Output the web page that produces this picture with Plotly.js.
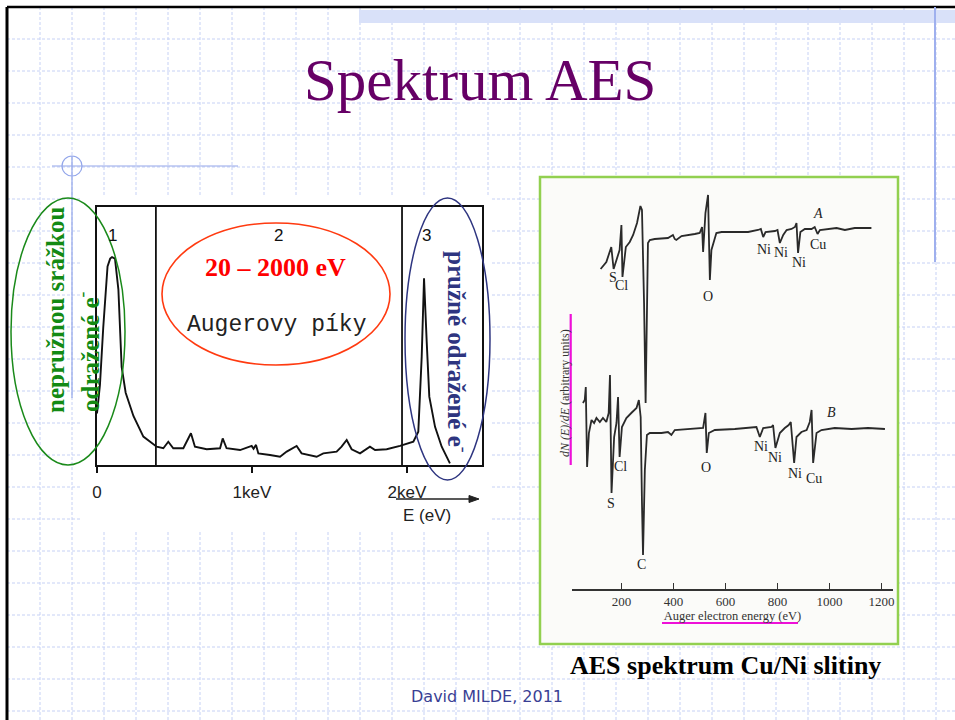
<!DOCTYPE html>
<html>
<head>
<meta charset="utf-8">
<script src="https://cdn.plot.ly/plotly-3.0.1.min.js"></script>
<style>html,body{margin:0;padding:0;background:#fff;}#chart{width:955px;height:720px;}</style>
</head>
<body>
<div id="chart"></div>
<script>
// ---------- DATA ----------
// Left spectrum N(E): energy (eV) and intensity (arb.)
const leftE = [0, 19, 40, 68, 85, 97, 116, 138, 159, 185, 235, 299, 385, 428, 460, 492, 557, 606, 632, 708, 794, 811, 836, 923, 998, 1010, 1026, 1041, 1116, 1181, 1224, 1288, 1320, 1417, 1460, 1546, 1578, 1611, 1643, 1697, 1761, 1794, 1869, 1955, 2041, 2073, 2095, 2110, 2127, 2144, 2181, 2224, 2277];
const leftN = [20, 31, 53, 77, 80, 80.6, 80, 68, 38, 28, 19, 11, 7.1, 6.5, 9.0, 6.5, 6.5, 12.3, 7.1, 6.1, 6.5, 10.3, 6.5, 5.8, 7.4, 6.3, 7.8, 4.5, 3.9, 3.2, 5.2, 7.4, 4.5, 3.2, 4.5, 5.2, 7.1, 9.7, 6.1, 4.5, 7.1, 5.8, 6.1, 7.4, 9.0, 12.9, 42, 72.4, 48, 26.5, 14.8, 7.1, 0.6];
const leftTickVals = [0, 1000, 2000];
const leftTickText = ['0', '1keV', '2keV'];
const regionBounds = [380, 1968];
const regionNames = ['1', '2', '3'];
const regionNameE = [97, 1168, 2129];

// Right spectrum dN/dE, curve A
const specAE = [120, 142, 161, 170, 181, 193, 200, 204, 217, 232, 245, 260, 273, 279, 287, 293, 302, 309, 328, 379, 398, 405, 411, 431, 482, 501, 510, 514, 523, 533, 536, 540, 546, 565, 585, 636, 687, 725, 736, 745, 754, 790, 800, 809, 822, 835, 854, 867, 873, 879, 888, 905, 931, 943, 954, 963, 995, 1027, 1059, 1097, 1161];
const specA  = [32.0, 32.7, 34.2, 32.0, 32.9, 33.9, 36.4, 31.2, 34.2, 34.7, 35.4, 36.6, 38.3, 37.9, 28.6, 18.6, 34.6, 34.9, 35.0, 35.1, 35.4, 35.0, 34.9, 35.3, 35.5, 35.6, 36.2, 33.7, 37.6, 39.4, 35.6, 30.9, 33.9, 35.6, 35.7, 35.7, 35.7, 35.9, 36.0, 35.2, 35.7, 35.8, 35.9, 34.6, 35.4, 35.9, 36.0, 36.2, 36.6, 33.6, 35.7, 36.0, 36.0, 36.2, 35.5, 35.9, 36.0, 36.1, 35.9, 36.1, 36.1];
// Right spectrum dN/dE, curve B
const specBE = [52, 59, 63, 68, 75, 85, 95, 104, 117, 129, 142, 151, 156, 162, 172, 181, 187, 193, 202, 219, 238, 258, 267, 274, 279, 283, 290, 298, 309, 354, 379, 392, 405, 482, 514, 523, 528, 536, 559, 636, 700, 719, 732, 745, 777, 783, 792, 809, 828, 843, 851, 864, 873, 892, 912, 924, 931, 937, 950, 969, 1020, 1085, 1148, 1213];
const specB  = [18.6, 18.9, 20.2, 12.2, 15.6, 16.9, 16.6, 17.1, 16.7, 17.1, 16.7, 17.6, 21.4, 9.6, 15.2, 16.6, 19.2, 13.2, 16.2, 17.1, 17.6, 18.1, 18.9, 17.2, 8.6, 3.4, 11.9, 15.4, 15.6, 15.6, 15.7, 15.4, 15.9, 16.0, 16.1, 17.6, 13.6, 15.6, 15.9, 16.0, 16.1, 16.2, 15.2, 16.1, 16.2, 16.4, 14.1, 15.6, 16.1, 16.4, 16.7, 12.6, 15.2, 15.7, 15.9, 16.7, 17.9, 12.6, 15.6, 15.9, 16.1, 16.0, 16.1, 16.0];
const rightTickVals = [200, 400, 600, 800, 1000, 1200];
// Peak labels on the right spectrum
const peakText = ['S', 'Cl', 'O', 'Ni', 'Ni', 'Ni', 'Cu', 'Cl', 'S', 'C', 'O', 'Ni', 'Ni', 'Ni', 'Cu'];
const peakE    = [166, 201, 532, 747, 813, 882, 955, 197, 161, 277, 527, 735, 792, 866, 940];
const peakY    = [31.2, 30.4, 29.3, 34.0, 33.7, 32.7, 34.5, 12.3, 8.6, 2.5, 12.2, 14.3, 13.2, 11.6, 11.1];
const curveNames = ['A', 'B'];
const curveNameE = [956, 1008];
const curveNameY = [37.6, 17.7];

// ---------- LAYOUT HELPERS ----------
const W = 955, H = 720;
const PX = x => x / W;
const PY = y => 1 - y / H;
const SERIF = 'Liberation Serif, Times New Roman, serif';
const shapes = [];
const annotations = [];

function pline(x0, y0, x1, y1, color, width, dash, layer) {
  shapes.push({type: 'line', xref: 'paper', yref: 'paper', x0: PX(x0), y0: PY(y0), x1: PX(x1), y1: PY(y1),
    line: {color: color, width: width, dash: dash || 'solid'}, layer: layer || 'above'});
}
function prect(x0, y0, x1, y1, fill, lineColor, lineWidth, layer) {
  shapes.push({type: 'rect', xref: 'paper', yref: 'paper', x0: PX(x0), y0: PY(y0), x1: PX(x1), y1: PY(y1),
    fillcolor: fill, line: {color: lineColor || 'rgba(0,0,0,0)', width: lineWidth || 0}, layer: layer || 'below'});
}
function pellipse(x0, y0, x1, y1, color, width) {
  shapes.push({type: 'circle', xref: 'paper', yref: 'paper', x0: PX(x0), y0: PY(y0), x1: PX(x1), y1: PY(y1),
    line: {color: color, width: width}, layer: 'above'});
}
function ptext(text, x, y, font, angle, extra) {
  annotations.push(Object.assign({xref: 'paper', yref: 'paper', x: PX(x), y: PY(y), text: text, showarrow: false,
    xanchor: 'center', yanchor: 'middle', font: font, textangle: angle || 0}, extra || {}));
}

// slide grid
const gridColor = '#c6d1f5';
for (let x = 40; x < W; x += 32) pline(x, 7, x, 720, gridColor, 1, '3px,2px', 'below');
for (let y = 39; y < H; y += 32) pline(7, y, 955, y, gridColor, 1, '3px,2px', 'below');
// top band
prect(359, 10, 955, 23, '#d9e1f9');
// pasted images backgrounds
prect(82, 196, 490, 532, '#ffffff');
prect(540, 177, 898, 644, '#fbfbf9', '#92d050', 2.5);
// slide frame
pline(7, 7, 955, 7, '#000', 2.5);
pline(7, 7, 7, 720, '#000', 3);
pline(935, 7, 935, 262, '#9fb0ee', 2);
// crosshair decoration
pline(52, 166, 238, 166, '#93a6ea', 1.2);
pline(72, 156, 72, 398, '#93a6ea', 1.2);
pellipse(62, 156, 82, 176, '#93a6ea', 1.2);
// ellipses
pellipse(11, 198, 125, 465, '#1a8a1a', 1.5);
pellipse(162, 223, 390, 365, '#ff3a10', 1.6);
pellipse(405, 198, 490, 480, '#2e3580', 1.5);
// magenta highlights
pline(570.7, 314, 570.7, 465, '#ee10d8', 2.2);
pline(662, 623, 798, 623, '#ee10d8', 2.2);

// region dividers in left chart
regionBounds.forEach(b => shapes.push({type: 'line', xref: 'x', yref: 'y', x0: b, x1: b, y0: 0, y1: 100,
  line: {color: '#111', width: 1.8}, layer: 'above'}));
// arrow under the left energy axis
shapes.push({type: 'line', xref: 'paper', yref: 'paper', x0: PX(396), y0: PY(499), x1: PX(472), y1: PY(499), line: {color: '#222', width: 1.6}});
shapes.push({type: 'path', xref: 'paper', yref: 'paper',
  path: 'M ' + PX(479) + ' ' + PY(499) + ' L ' + PX(469) + ' ' + PY(495.5) + ' L ' + PX(469) + ' ' + PY(502.5) + ' Z',
  fillcolor: '#222', line: {color: '#222', width: 1}});

// texts
ptext('Spektrum AES', 480, 80, {family: SERIF, size: 59, color: '#660066'});
ptext('<b>nepružnou srážkou</b>', 55, 310, {family: SERIF, size: 25, color: '#138a13'}, -90);
ptext('<b>odražené e<sup>-</sup></b>', 88, 352, {family: SERIF, size: 25, color: '#138a13'}, -90);
ptext('<b>pružně odražené e<sup>-</sup></b>', 458, 352, {family: SERIF, size: 25, color: '#2e3580'}, 90);
ptext('<b>20 – 2000 eV</b>', 275, 267, {family: SERIF, size: 26, color: '#ff0000'});
ptext('Augerovy píky', 277, 325, {family: 'Liberation Mono, Courier New, monospace', size: 23, color: '#222'});
ptext('E (eV)', 427, 515, {family: 'Liberation Sans Narrow, Liberation Sans, Arial, sans-serif', size: 17, color: '#222'});
ptext('<b>AES spektrum Cu/Ni slitiny</b>', 725, 665, {family: SERIF, size: 26, color: '#000'});
ptext('David MILDE, 2011', 487, 696, {family: 'DejaVu Sans, Verdana, sans-serif', size: 16, color: '#3a3f94'});
ptext('<i>dN (E)/dE</i> (arbitrary units)', 565, 393, {family: SERIF, size: 12, color: '#333'}, -90);

// region numbers (data coords of left chart)
regionNames.forEach((t, i) => annotations.push({xref: 'x', yref: 'y', x: regionNameE[i], y: 89, text: t, showarrow: false,
  font: {family: 'Liberation Sans Narrow, Liberation Sans, Arial, sans-serif', size: 17, color: '#111'}}));
// peak labels (data coords of right chart)
peakText.forEach((t, i) => annotations.push({xref: 'x2', yref: 'y2', x: peakE[i], y: peakY[i], text: t, showarrow: false,
  font: {family: SERIF, size: 14, color: '#222'}}));
curveNames.forEach((t, i) => annotations.push({xref: 'x2', yref: 'y2', x: curveNameE[i], y: curveNameY[i], text: '<i>' + t + '</i>', showarrow: false,
  font: {family: SERIF, size: 14, color: '#222'}}));

// ---------- TRACES ----------
const traces = [
  {x: leftE, y: leftN, type: 'scatter', mode: 'lines', xaxis: 'x', yaxis: 'y', line: {color: '#111', width: 1.9}, hoverinfo: 'skip'},
  {x: specAE, y: specA, type: 'scatter', mode: 'lines', xaxis: 'x2', yaxis: 'y2', line: {color: '#2a2a2a', width: 1.8}, hoverinfo: 'skip'},
  {x: specBE, y: specB, type: 'scatter', mode: 'lines', xaxis: 'x2', yaxis: 'y2', line: {color: '#2a2a2a', width: 1.8}, hoverinfo: 'skip'}
];

const layout = {
  width: W, height: H,
  margin: {l: 0, r: 0, t: 0, b: 0},
  paper_bgcolor: '#ffffff', plot_bgcolor: 'rgba(0,0,0,0)',
  showlegend: false,
  xaxis: {domain: [PX(97), PX(482)], range: [0, 2484], anchor: 'y',
    showline: true, mirror: true, linecolor: '#111', linewidth: 2,
    ticks: 'outside', ticklen: 6, tickwidth: 1.5, tickcolor: '#111',
    tickvals: leftTickVals, ticktext: leftTickText, ticklabelstandoff: 5,
    tickfont: {family: 'Liberation Sans Narrow, Liberation Sans, Arial, sans-serif', size: 17, color: '#222'},
    showgrid: false, zeroline: false, fixedrange: true},
  yaxis: {domain: [PY(465), PY(207)], range: [0, 100], anchor: 'x',
    showline: true, mirror: true, linecolor: '#111', linewidth: 2,
    showticklabels: false, ticks: '', showgrid: false, zeroline: false, fixedrange: true},
  xaxis2: {domain: [PX(572), PX(893)], range: [10, 1244], anchor: 'y2',
    showline: true, linecolor: '#333', linewidth: 1.5,
    ticks: 'inside', ticklen: 6, tickwidth: 1.2, tickcolor: '#333',
    tickvals: rightTickVals, tickfont: {family: SERIF, size: 13, color: '#333'},
    title: {text: 'Auger electron energy (eV)', font: {family: SERIF, size: 12.5, color: '#333'}, standoff: 2},
    showgrid: false, zeroline: false, fixedrange: true},
  yaxis2: {domain: [PY(589), PY(177)], range: [0, 41.2], anchor: 'x2', visible: false, fixedrange: true},
  shapes: shapes,
  annotations: annotations
};

Plotly.newPlot('chart', traces, layout, {staticPlot: true, displayModeBar: false});
</script>
</body>
</html>
